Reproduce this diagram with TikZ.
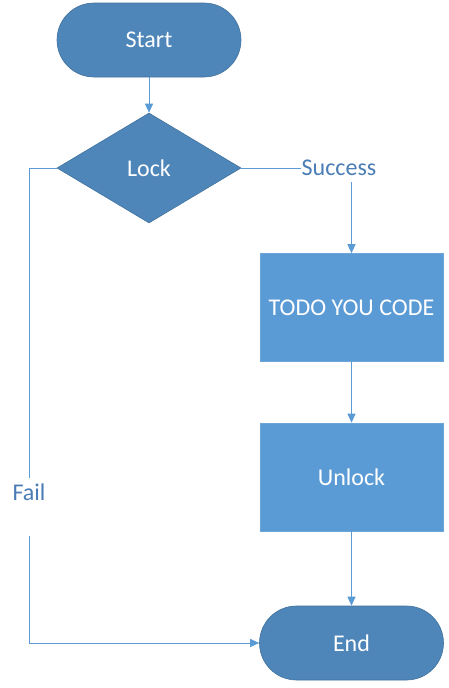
\documentclass[tikz,border=0pt]{standalone}
\usepackage{fontspec}
\setmainfont{Carlito}
\usetikzlibrary{shapes.geometric,arrows.meta}
\definecolor{term}{HTML}{4E86B9}
\definecolor{proc}{HTML}{5B9BD5}
\definecolor{lin}{HTML}{5B9BD5}
\definecolor{lbl}{HTML}{4A7DB5}
\tikzset{
  terminal/.style={draw=term!85!black, line width=0.6pt, fill=term, rounded corners=37pt, minimum width=184pt, minimum height=74pt, inner sep=0pt, text=white, font=\fontsize{24}{28}\selectfont},
  decision/.style={diamond, draw=term!85!black, line width=0.6pt, fill=term, aspect=1.67, minimum width=184pt, minimum height=110pt, inner sep=0pt, text=white, font=\fontsize{24}{28}\selectfont},
  process/.style={draw=proc!90!white, line width=0.6pt, fill=proc, minimum width=183pt, minimum height=108pt, inner sep=0pt, text=white, font=\fontsize{24}{28}\selectfont},
  conn/.style={draw=lin, line width=1pt, -{Triangle[length=9pt,width=8pt]}},
  plain/.style={draw=lin, line width=1pt},
  edgelabel/.style={fill=white, text=lbl, inner xsep=0pt, font=\fontsize{24}{28}\selectfont}
}
\begin{document}
\begin{tikzpicture}[x=1pt,y=-1pt]
\useasboundingbox (0,0) rectangle (449,688);
\node[terminal] (start) at (149,40) {Start};
\node[decision] (lock) at (149,168) {Lock};
\node[process] (todo) at (351.5,307.5) {TODO YOU CODE};
\node[process] (unlock) at (351.5,477) {Unlock};
\node[terminal] (end) at (351.5,643) {End};
\node[edgelabel, inner ysep=6pt] (succ) at (339,168) {Success};
\coordinate (failturn) at (29,168);
\draw[conn] (start) -- (lock);
\draw[plain] (lock.east) -- (succ.west);
\draw[conn] (succ.south -| todo.north) -- (todo.north);
\draw[conn] (todo) -- (unlock);
\draw[conn] (unlock) -- (end);
\draw[conn] (lock.west) -- (failturn) |- (end.west);
\node[edgelabel, anchor=north, inner ysep=0pt, inner xsep=1pt, text height=22.5pt, text depth=35.5pt] (fail) at (29,478) {Fail};
\end{tikzpicture}
\end{document}
